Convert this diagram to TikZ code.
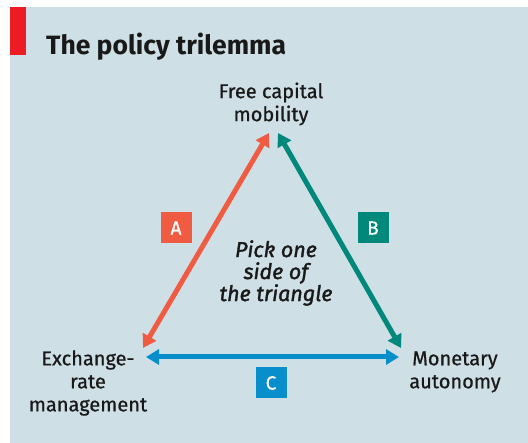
\documentclass[tikz,border=0pt]{standalone}
\usepackage{fontspec}
\setmainfont{Fira Sans}
\newfontfamily\labelfont{Fira Sans}[FakeBold=0.7]
\newfontfamily\pickfont{Fira Sans}[FakeBold=1.6]
\usetikzlibrary{arrows.meta, positioning}
\definecolor{chartbg}{RGB}{206,223,230}
\definecolor{ecored}{RGB}{237,28,36}
\definecolor{sideA}{RGB}{240,92,66}
\definecolor{sideB}{RGB}{0,136,122}
\definecolor{sideC}{RGB}{8,142,202}

\begin{document}
\begin{tikzpicture}[x=1pt, y=-1pt]
	\tikzstyle{corner}=[font=\labelfont\fontsize{20}{23}\selectfont, text=black!90, align=center, inner sep=0pt]
\tikzstyle{tag}=[minimum size=31pt, inner sep=0pt, text=white, font=\labelfont\fontsize{19}{19}\selectfont]
\tikzstyle{connect}=[{Triangle[width=15pt,length=13pt]}-{Triangle[width=15pt,length=13pt]}, line width=5pt]
\useasboundingbox (0,0) rectangle (528,443);
\fill[chartbg] (10,7) rectangle (528,443);
\fill[ecored] (10,7) rectangle (26,55);
\node[anchor=base west, inner sep=0pt, font=\fontsize{26.5}{26.5}\selectfont\bfseries, text=black!90] (title) at (46,55) {The policy trilemma};
\node[corner] (capital) at (271,104) {Free capital\\mobility};
\node[corner] (exchange) at (88,383) {Exchange-\\rate\\management};
\node[corner] (monetary) at (455,372) {Monetary\\autonomy};
\node[font=\pickfont\fontsize{21.5}{22}\selectfont\itshape, text=black!90, align=center, inner sep=0pt] (pick) at (276,273) {Pick one\\side of\\the triangle};
\coordinate (topA) at (269,133);
\coordinate (topB) at (278,133);
\coordinate (leftA) at (143,348);
\coordinate (rightB) at (401,348);
\coordinate (leftC) at (146,357);
\coordinate (rightC) at (399,357);
\node[tag, fill=sideA] (tagA) at (176,228) {A};
\node[tag, fill=sideB] (tagB) at (373,228) {B};
\node[tag, fill=sideC] (tagC) at (271,383) {C};
\draw[connect, sideA] (leftA) -- (topA);
\draw[connect, sideB] (topB) -- (rightB);
\draw[connect, sideC] (leftC) -- (rightC);
\end{tikzpicture}
\end{document}
